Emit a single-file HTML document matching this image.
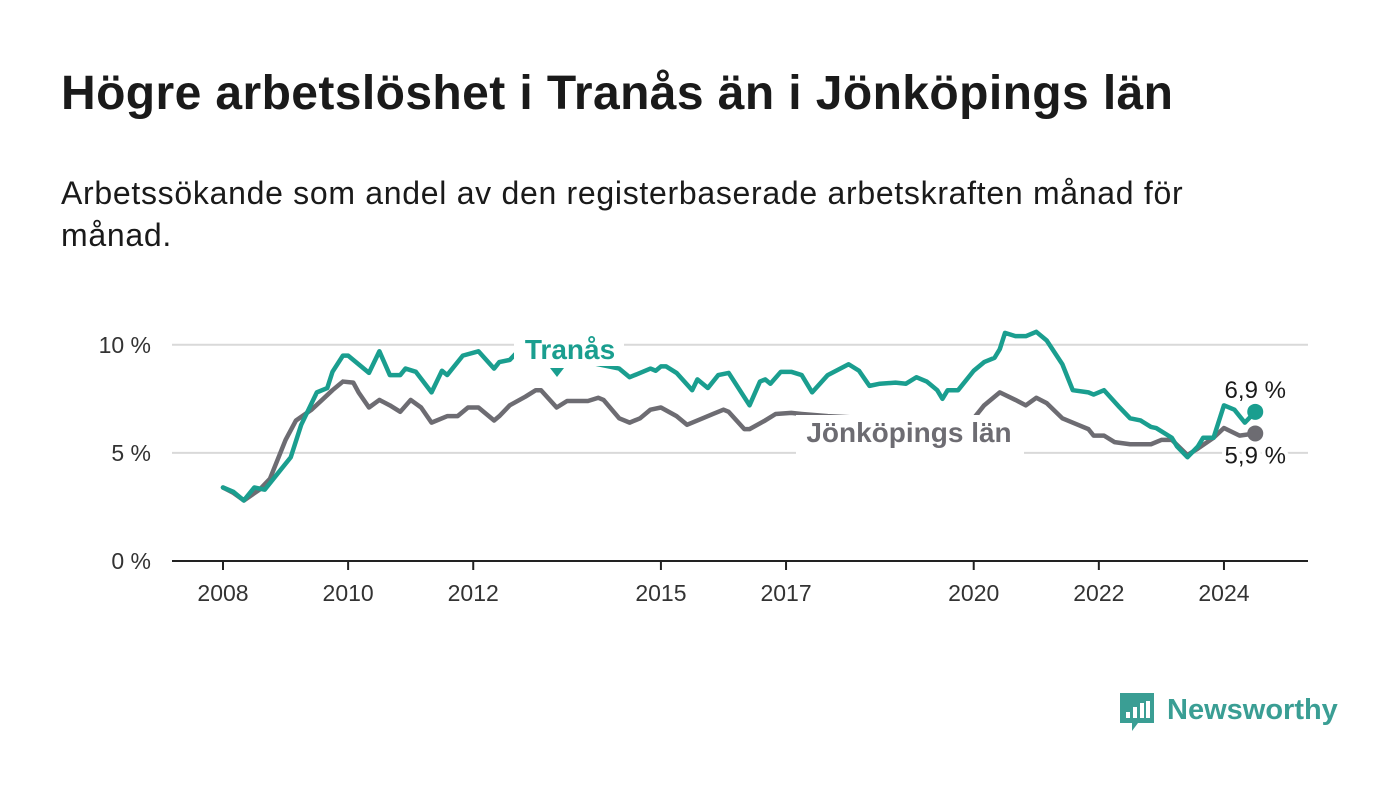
<!DOCTYPE html>
<html><head><meta charset="utf-8"><style>
body{margin:0;background:#fff;width:1400px;height:794px;overflow:hidden;font-family:"Liberation Sans",sans-serif;color:#1a1a1a}
h1{position:absolute;left:61px;top:66px;margin:0;font-size:48px;font-weight:bold;letter-spacing:0.4px;white-space:nowrap}
p{position:absolute;left:61px;top:172px;margin:0;font-size:32px;line-height:42px;width:1240px;letter-spacing:0.7px}
</style></head><body>
<h1>Högre arbetslöshet i Tranås än i Jönköpings län</h1>
<p>Arbetssökande som andel av den registerbaserade arbetskraften månad för månad.</p>
<svg id="chart" width="1400" height="794" style="position:absolute;left:0;top:0"></svg>
<script>
const yTicks=[0,5,10];
const yTickLabels=["0 %","5 %","10 %"];
const xTickYears=[2008,2010,2012,2015,2017,2020,2022,2024];
const tranasMonths=[0,2,4,6,8,11,13,15,18,20,21,23,24,26,28,30,32,34,35,37,40,42,43,46,49,52,53,55,57,61,65,68,72,76,78,80,82,83,84,85,87,90,91,93,95,97,101,103,104,105,107,109,111,113,116,120,122,124,126,129,131,133,135,137,138,139,141,144,146,148,149,150,152,154,156,158,161,163,166,167,169,172,174,176,178,179,182,183,185,187,188,190,192,194,196,198];
const tranasValues=[3.4,3.2,2.8,3.4,3.3,4.2,4.8,6.3,7.8,8.0,8.75,9.5,9.5,9.1,8.7,9.7,8.6,8.6,8.9,8.75,7.8,8.8,8.6,9.5,9.7,8.9,9.2,9.3,9.8,9.9,9.6,9.3,9.1,8.9,8.5,8.7,8.9,8.8,9.0,9.0,8.7,7.9,8.4,8.0,8.6,8.7,7.2,8.3,8.4,8.2,8.75,8.75,8.6,7.8,8.6,9.1,8.8,8.1,8.2,8.25,8.2,8.5,8.3,7.9,7.5,7.9,7.9,8.8,9.2,9.4,9.8,10.55,10.4,10.4,10.6,10.2,9.1,7.9,7.8,7.7,7.9,7.1,6.6,6.5,6.2,6.15,5.7,5.3,4.8,5.3,5.7,5.7,7.2,7.0,6.4,6.9];
const jkpMonths=[0,2,4,7,9,12,14,17,19,21,23,25,26,28,30,32,34,36,38,40,43,45,47,49,52,53,55,58,60,61,64,66,70,72,73,76,78,80,82,84,87,89,92,94,96,97,100,101,104,106,109,111,116,124,132,139,144,146,149,152,154,156,158,161,164,166,167,169,171,174,178,180,182,185,187,190,192,195,198];
const jkpValues=[3.4,3.15,2.8,3.3,3.8,5.6,6.5,7.0,7.45,7.9,8.3,8.25,7.8,7.1,7.45,7.2,6.9,7.45,7.1,6.4,6.7,6.7,7.1,7.1,6.5,6.7,7.2,7.6,7.9,7.9,7.1,7.4,7.4,7.55,7.45,6.6,6.4,6.6,7.0,7.1,6.7,6.3,6.6,6.8,7.0,6.9,6.1,6.1,6.5,6.8,6.85,6.8,6.7,6.6,6.5,6.4,6.6,7.2,7.8,7.45,7.2,7.55,7.3,6.6,6.3,6.1,5.8,5.8,5.5,5.4,5.4,5.6,5.6,4.9,5.2,5.7,6.15,5.8,5.9];
const NS="http://www.w3.org/2000/svg";
const svg=document.getElementById('chart');
const x=m=>223+m*62.56/12;
const xy=yr=>223+(yr-2008)*62.56;
const y=v=>561-v*21.62;
function el(t,a,txt){const e=document.createElementNS(NS,t);for(const k in a)e.setAttribute(k,a[k]);if(txt!==undefined)e.textContent=txt;svg.appendChild(e);return e;}
yTicks.forEach((t,i)=>{
 if(t>0){const g=el('line',{x1:172,x2:1308,y1:y(t),y2:y(t),stroke:'#d9d9d9','stroke-width':2});
 
 }
 const l=el('text',{x:151,y:y(t)+8,'text-anchor':'end','font-size':23,fill:'#333'},yTickLabels[i]);
 
 
});
const ax=el('line',{x1:172,x2:1308,y1:y(0),y2:y(0),stroke:'#222','stroke-width':2});


xTickYears.forEach(yr=>{
 const tk=el('line',{x1:xy(yr),x2:xy(yr),y1:562,y2:570,stroke:'#222','stroke-width':2});
 
 
 const l=el('text',{x:xy(yr),y:601,'text-anchor':'middle','font-size':23,fill:'#333'},yr);
 
 
});
function line(ms,vs,col,name){
 const p=el('polyline',{points:ms.map((m,i)=>x(m)+','+y(vs[i])).join(' '),fill:'none',stroke:col,'stroke-width':4.5,'stroke-linejoin':'round','stroke-linecap':'round'});
 
 
 const n=ms.length-1;
 const c=el('circle',{cx:x(ms[n]),cy:y(vs[n]),r:8,fill:col});
 
 
}
line(jkpMonths,jkpValues,'#6d6c72','jonkoping-line');
line(tranasMonths,tranasValues,'#1a9e8f','tranas-line');
function box(x0,y0,w,h,name){const b=el('rect',{x:x0,y:y0,width:w,height:h,fill:'#fff'});
 
 }
box(514,330,110,36,'tranas-label-bg');
box(796,415,228,40,'jonkoping-label-bg');
const tri1=el('path',{d:'M550 368h14l-7 9z',fill:'#1a9e8f'});


function lab(tx,xx,yy,col,name,anchor,weight){
 const t=el('text',{x:xx,y:yy,'text-anchor':anchor,'font-size':weight?28:24,'font-weight':weight?'bold':'normal',fill:col,stroke:'#fff','stroke-width':weight?0:8,'paint-order':'stroke','stroke-linejoin':'round'},tx);
 
 
}
lab('Tranås',570,359,'#1a9e8f','tranas-label','middle',true);
lab('Jönköpings län',909,442,'#6d6c72','jonkoping-label','middle',true);
const n1=tranasValues.length-1,n2=jkpValues.length-1;
lab('6,9 %',x(tranasMonths[n1]),y(tranasValues[n1])-14,'#1a1a1a','tranas-end-value','middle',false);
lab('5,9 %',x(jkpMonths[n2]),y(jkpValues[n2])+30,'#1a1a1a','jonkoping-end-value','middle',false);
const lg=el('g',{});


const r=document.createElementNS(NS,'path');r.setAttribute('d','M1120 693h34v30h-16l-6 8v-8h-12z');r.setAttribute('fill','#3a9e94');lg.appendChild(r);
[[1126,712,6],[1133,707,11],[1140,703,15],[1146,701,17]].forEach(b=>{const q=document.createElementNS(NS,'rect');q.setAttribute('x',b[0]);q.setAttribute('y',b[1]);q.setAttribute('width',4);q.setAttribute('height',b[2]);q.setAttribute('fill','#fff');lg.appendChild(q);});
const t=document.createElementNS(NS,'text');t.setAttribute('x',1167);t.setAttribute('y',719);t.setAttribute('font-size',29);t.setAttribute('font-weight','bold');t.setAttribute('fill','#3a9e94');t.textContent='Newsworthy';lg.appendChild(t);
</script>
</body></html>
